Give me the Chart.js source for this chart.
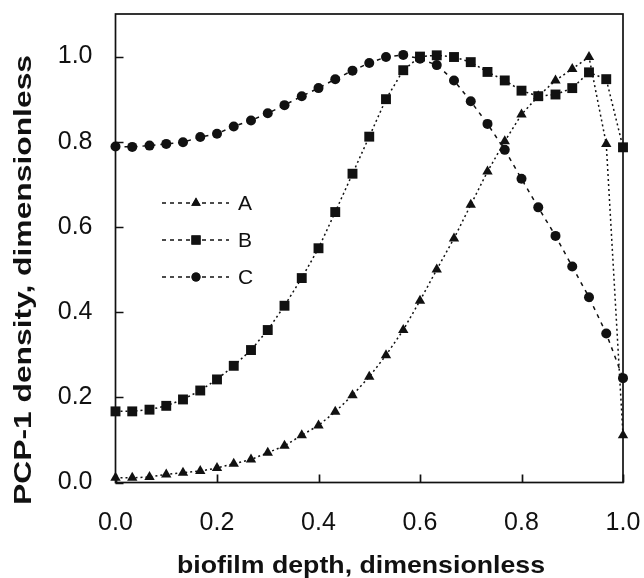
<!DOCTYPE html>
<html><head><meta charset="utf-8">
<script src="https://cdn.jsdelivr.net/npm/chart.js@4.4.1/dist/chart.umd.min.js"></script>
<style>html,body{margin:0;padding:0;background:#fff}#wrap{width:644px;height:578px}</style>
</head><body><div id="wrap"><canvas id="c" width="644" height="578"></canvas></div>
<script>
const depth = [0.000,0.033,0.067,0.100,0.133,0.167,0.200,0.233,0.267,0.300,0.333,0.367,0.400,0.433,0.467,0.500,0.533,0.567,0.600,0.633,0.667,0.700,0.733,0.767,0.800,0.833,0.867,0.900,0.933,0.967,1.000];
const seriesA = [0.011,0.011,0.013,0.019,0.023,0.027,0.034,0.044,0.054,0.070,0.086,0.111,0.134,0.166,0.205,0.248,0.299,0.358,0.427,0.500,0.573,0.652,0.730,0.801,0.864,0.907,0.944,0.971,0.999,0.795,0.111];
const seriesB = [0.167,0.167,0.171,0.180,0.195,0.216,0.242,0.274,0.311,0.358,0.415,0.480,0.550,0.635,0.725,0.812,0.900,0.968,1.000,1.003,0.999,0.987,0.964,0.944,0.920,0.907,0.911,0.926,0.963,0.947,0.787];
const seriesC = [0.789,0.788,0.791,0.795,0.799,0.811,0.819,0.836,0.850,0.867,0.886,0.907,0.926,0.947,0.967,0.985,0.999,1.004,0.995,0.980,0.944,0.895,0.842,0.781,0.713,0.646,0.579,0.507,0.435,0.350,0.245];
const seriesNames = ['A','B','C'];
const xTicks = [0,0.2,0.4,0.6,0.8,1.0];
const yTicks = [0,0.2,0.4,0.6,0.8,1.0];
const xTitle = 'biofilm depth, dimensionless';
const yTitle = 'PCP-1 density, dimensionless';

const FONT = '"Liberation Sans", Arial, Helvetica, sans-serif';
const INK = '#111';

function pts(arr){ return depth.map((x,i)=>({x:x, y:arr[i]})); }

const styles = [
  {pointStyle:'triangle', radius:6, dash:[2,3]},
  {pointStyle:'rect', radius:7, dash:[2,3]},
  {pointStyle:'circle', radius:5, dash:[4,5]}
];
const allSeries = [seriesA, seriesB, seriesC];

const datasets = allSeries.map((s,k)=>({
  label: seriesNames[k],
  data: pts(s),
  borderColor: INK,
  backgroundColor: INK,
  borderWidth: 1.5,
  borderDash: styles[k].dash,
  pointStyle: styles[k].pointStyle,
  pointRadius: styles[k].radius,
  pointBorderWidth: 0,
  pointBackgroundColor: INK,
  tension: 0,
  clip: false
}));

function drawSpacedText(ctx, text, target){
  const w0 = ctx.measureText(text).width;
  const sx = target / w0;
  ctx.save();
  ctx.scale(sx, 1);
  ctx.fillText(text, 0, 0);
  ctx.restore();
}

function zeroPad(s){ s.paddingTop = 0; s.paddingBottom = 0; s.paddingLeft = 0; s.paddingRight = 0; }

const framePlugin = {
  id: 'frame',
  afterDatasetsDraw(chart){
    const {ctx, chartArea:a, scales} = chart;
    ctx.save();
    ctx.strokeStyle = INK;
    ctx.lineWidth = 1.7;
    ctx.setLineDash([]);
    ctx.strokeRect(a.left, a.top, a.right - a.left, a.bottom - a.top);
    ctx.beginPath();
    yTicks.forEach(v=>{
      const py = Math.round(scales.y.getPixelForValue(v)) + 0.5;
      ctx.moveTo(a.left, py); ctx.lineTo(a.left + 8, py);
    });
    xTicks.forEach(v=>{
      const px = Math.round(scales.x.getPixelForValue(v)) + 0.5;
      ctx.moveTo(px, a.bottom); ctx.lineTo(px, a.bottom - 8);
    });
    ctx.stroke();

    const rows = [203, 240, 277];
    ctx.font = '21px ' + FONT;
    ctx.textBaseline = 'middle';
    ctx.textAlign = 'left';
    ctx.fillStyle = INK;
    seriesNames.forEach((name,k)=>{
      const y = rows[k];
      ctx.save();
      ctx.lineWidth = 1.3;
      ctx.setLineDash([4,4]);
      ctx.beginPath(); ctx.moveTo(162, y); ctx.lineTo(229, y); ctx.stroke();
      ctx.restore();
      Chart.helpers.drawPoint(ctx, {pointStyle: styles[k].pointStyle, radius: styles[k].radius - 0.5, rotation: 0, borderWidth: 0}, 196, y);
      ctx.fill();
      ctx.fillText(name, 238, y + 1);
    });

    ctx.font = 'bold 24px ' + FONT;
    ctx.textAlign = 'left';
    ctx.textBaseline = 'alphabetic';
    ctx.save();
    ctx.translate(177, 573);
    drawSpacedText(ctx, xTitle, 368);
    ctx.restore();

    ctx.save();
    ctx.translate(31, 505);
    ctx.rotate(-Math.PI/2);
    drawSpacedText(ctx, yTitle, 450);
    ctx.restore();
    ctx.restore();
  }
};

new Chart(document.getElementById('c'), {
  type: 'line',
  data: { datasets },
  plugins: [framePlugin],
  options: {
    responsive: false,
    devicePixelRatio: 1,
    animation: false,
    layout: { padding: { top: 14, right: 21, left: 0, bottom: 0 } },
    plugins: { legend: { display: false }, tooltip: { enabled: false } },
    scales: {
      x: {
        type: 'linear', min: 0, max: 1,
        afterBuildTicks: s => { s.ticks = xTicks.map(v=>({value:v})); },
        afterFit: s => { s.height = 95.5; zeroPad(s); },
        grid: { display: false, drawTicks: false },
        border: { display: false },
        ticks: { color: INK, padding: 26, font: { family: FONT, size: 25 }, callback: v => v.toFixed(1), maxRotation: 0 }
      },
      y: {
        type: 'linear', min: 0, max: 1.1,
        afterBuildTicks: s => { s.ticks = yTicks.map(v=>({value:v})); },
        afterFit: s => { s.width = 115.5; zeroPad(s); },
        grid: { display: false, drawTicks: false },
        border: { display: false },
        ticks: { color: INK, padding: 23, font: { family: FONT, size: 25 }, callback: v => v.toFixed(1) }
      }
    }
  }
});
</script></body></html>
